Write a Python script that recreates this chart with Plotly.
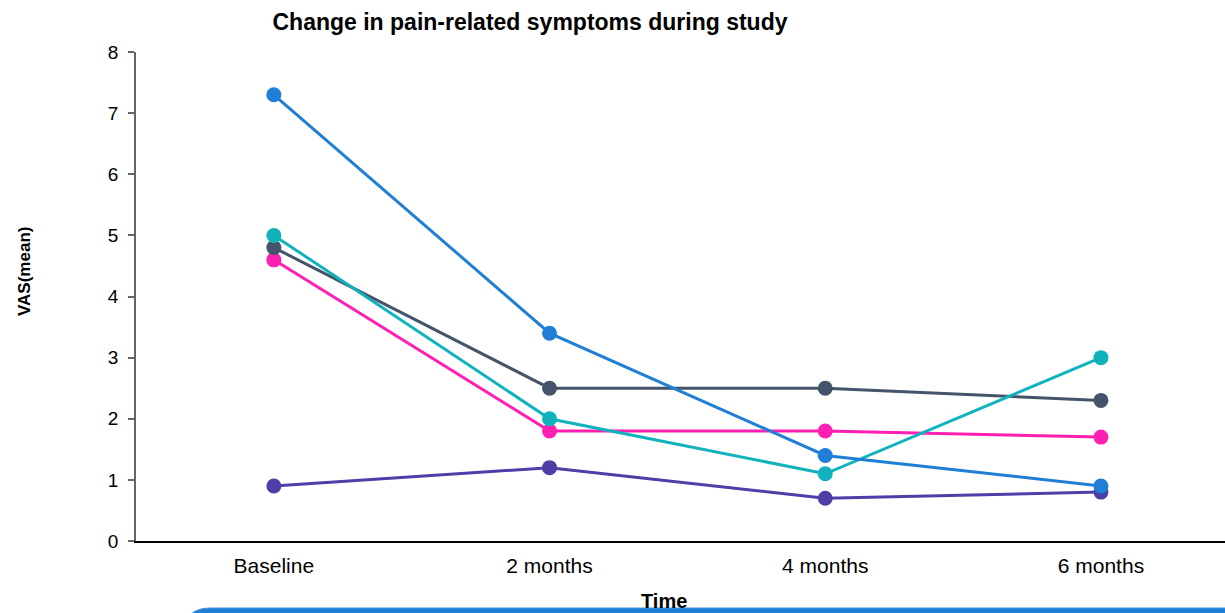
import plotly.graph_objects as go

# Study time points and mean VAS scores per symptom series
time_points = ["Baseline", "2 months", "4 months", "6 months"]
series_a = [7.3, 3.4, 1.4, 0.9]
series_b = [5.0, 2.0, 1.1, 3.0]
series_c = [4.8, 2.5, 2.5, 2.3]
series_d = [4.6, 1.8, 1.8, 1.7]
series_e = [0.9, 1.2, 0.7, 0.8]
y_ticks = [0, 1, 2, 3, 4, 5, 6, 7, 8]

colors = ["#1f7fd6", "#10b3bd", "#44546a", "#ff1fb2", "#4f3ea8"]
all_series = [series_a, series_b, series_c, series_d, series_e]

W, H = 1225, 613
L, R, T, B = 136, 0, 52, 72
plot_w = W - L - R
plot_h = H - T - B

fig = go.Figure()
# draw in this order so overlaps stack like the original
order = [4, 3, 2, 1, 0]
for i in order:
    fig.add_trace(go.Scatter(
        x=time_points, y=all_series[i], mode="lines+markers",
        line=dict(color=colors[i], width=3),
        marker=dict(color=colors[i], size=15),
        showlegend=False, hoverinfo="x+y",
    ))


def px_to_paper(px, py):
    return (px - L) / plot_w, (H - B - py) / plot_h


# rounded panel peeking in at the bottom edge
r = 26
x0, y0, x1, y1 = 184, 608, 1300, 700
ax, ay = px_to_paper(x0, y1)
bx, by = px_to_paper(x0, y0 + r)
cx, cy = px_to_paper(x0, y0)
dx, dy = px_to_paper(x0 + r, y0)
ex, ey = px_to_paper(x1, y0)
fx, fy = px_to_paper(x1, y1)
path = (f"M {ax} {ay} L {bx} {by} Q {cx} {cy} {dx} {dy} "
        f"L {ex} {ey} L {fx} {fy} Z")
fig.add_shape(type="path", path=path, xref="paper", yref="paper",
              fillcolor="#1f7fd6", line=dict(color="#4a9ae0", width=1),
              layer="above")

fig.update_layout(
    width=W, height=H,
    margin=dict(l=L, r=R, t=T, b=B),
    paper_bgcolor="white", plot_bgcolor="white",
    font=dict(family="Liberation Sans, Arial, sans-serif", color="#000000"),
    title=dict(text="<b>Change in pain-related symptoms during study</b>",
               x=530 / W, xref="container", xanchor="center",
               y=1 - 22 / H, yref="container", yanchor="middle",
               font=dict(size=23, color="#000000")),
    xaxis=dict(
        type="category", range=[-0.5, 3.45],
        showline=True, linecolor="#000000", linewidth=2,
        showgrid=False, zeroline=False, ticks="",
        tickfont=dict(size=21, color="#000000"),
        ticklabelstandoff=5,
    ),
    yaxis=dict(
        range=[0, 8], tickvals=y_ticks, ticktext=[str(v) for v in y_ticks],
        showline=True, linecolor="#666666", linewidth=1.5,
        showgrid=False, zeroline=False,
        ticks="outside", ticklen=6, tickcolor="#666666", tickwidth=1.5,
        tickfont=dict(size=19, color="#000000"),
        ticklabelstandoff=6,
    ),
    annotations=[
        dict(text="<b>VAS(mean)</b>", xref="paper", yref="paper",
             x=(24 - L) / plot_w, y=(H - B - 272) / plot_h,
             xanchor="center", yanchor="middle", textangle=-90,
             showarrow=False, font=dict(size=17, color="#000000")),
        dict(text="<b>Time</b>", xref="paper", yref="paper",
             x=(664 - L) / plot_w, y=(H - B - 601) / plot_h,
             xanchor="center", yanchor="middle",
             showarrow=False, font=dict(size=20, color="#000000")),
    ],
)

fig.write_html("out.html")
